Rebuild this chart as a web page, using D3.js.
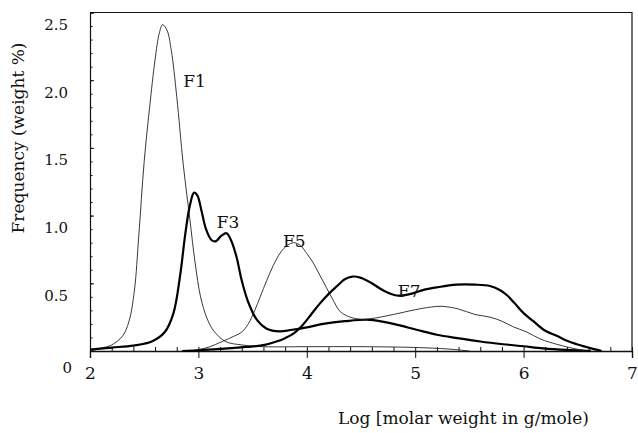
<!DOCTYPE html>
<html>
<head>
<meta charset="utf-8">
<script src="https://cdn.jsdelivr.net/npm/d3@7"></script>
<style>
  body { margin: 0; background: #fff; }
  text { font-family: "DejaVu Serif", "Liberation Serif", serif; fill: #111; }
  .axis path, .axis line { stroke: #111; }
</style>
</head>
<body>
<div id="chart"></div>
<script>
// molar mass distributions, x = log M, y = weight %
var f1 = [[2.0,0.0],[2.1,0.02],[2.2,0.045],[2.3,0.11],[2.36,0.22],[2.41,0.45],[2.45,0.85],[2.50,1.4],[2.55,1.8],[2.60,2.15],[2.64,2.35],[2.67,2.41],[2.71,2.37],[2.75,2.22],[2.80,1.88],[2.86,1.38],[2.92,0.98],[2.97,0.65],[3.02,0.40],[3.08,0.24],[3.14,0.15],[3.25,0.07],[3.4,0.045],[3.6,0.032],[4.0,0.032],[4.5,0.032],[5.0,0.026],[5.3,0.015],[5.5,0.0]];
var f3 = [[2.0,0.01],[2.2,0.025],[2.4,0.04],[2.57,0.07],[2.69,0.14],[2.77,0.28],[2.83,0.55],[2.88,0.87],[2.92,1.07],[2.96,1.17],[2.99,1.15],[3.03,1.03],[3.07,0.9],[3.12,0.82],[3.16,0.81],[3.21,0.85],[3.26,0.87],[3.30,0.82],[3.35,0.7],[3.40,0.52],[3.46,0.36],[3.54,0.23],[3.63,0.165],[3.75,0.145],[3.85,0.155],[4.0,0.175],[4.15,0.20],[4.35,0.22],[4.58,0.23],[4.8,0.2],[5.02,0.155],[5.2,0.12],[5.39,0.095],[5.6,0.07],[5.81,0.05],[6.0,0.035],[6.18,0.02],[6.4,0.008],[6.62,0.0]];
var f5 = [[2.9,0.0],[3.0,0.01],[3.1,0.03],[3.22,0.07],[3.33,0.11],[3.40,0.14],[3.46,0.2],[3.52,0.3],[3.57,0.4],[3.63,0.52],[3.69,0.63],[3.76,0.73],[3.82,0.78],[3.88,0.80],[3.94,0.78],[4.0,0.72],[4.06,0.65],[4.12,0.56],[4.18,0.47],[4.24,0.38],[4.31,0.29],[4.4,0.25],[4.5,0.235],[4.6,0.24],[4.8,0.27],[5.0,0.305],[5.15,0.325],[5.25,0.33],[5.4,0.31],[5.55,0.27],[5.69,0.25],[5.8,0.22],[5.9,0.18],[6.03,0.14],[6.15,0.09],[6.24,0.065],[6.4,0.03],[6.58,0.0]];
var f7 = [[2.85,0.0],[3.0,0.005],[3.2,0.015],[3.45,0.03],[3.61,0.045],[3.72,0.07],[3.8,0.095],[3.88,0.13],[3.96,0.19],[4.04,0.27],[4.12,0.35],[4.2,0.42],[4.28,0.48],[4.35,0.53],[4.42,0.55],[4.5,0.54],[4.6,0.5],[4.7,0.45],[4.83,0.41],[4.95,0.42],[5.07,0.45],[5.2,0.47],[5.38,0.49],[5.55,0.49],[5.69,0.48],[5.78,0.45],[5.85,0.41],[5.92,0.35],[6.0,0.28],[6.09,0.22],[6.2,0.15],[6.31,0.11],[6.4,0.075],[6.49,0.05],[6.6,0.025],[6.72,0.0]];

var seriesNames = ["F1", "F3", "F5", "F7"];
var labelPos = [[2.86, 1.95], [3.17, 0.91], [3.78, 0.77], [4.84, 0.40]];
var xTicks = [2, 3, 4, 5, 6, 7];
var yTicks = [0.5, 1.0, 1.5, 2.0, 2.5];

var data = [
    { name: "F1", values: f1, thick: false },
    { name: "F3", values: f3, thick: true },
    { name: "F5", values: f5, thick: false },
    { name: "F7", values: f7, thick: true }
];

var margin = { top: 12.5, right: 6, bottom: 82, left: 90 };
var totalW = 638, totalH = 433;
var width = totalW - margin.left - margin.right;
var height = totalH - margin.top - margin.bottom;

var svg = d3.select("#chart").append("svg")
    .attr("width", totalW)
    .attr("height", totalH)
    .append("g")
    .attr("transform", "translate(" + margin.left + "," + margin.top + ")");

var xScale = d3.scaleLinear().domain([2, 7]).range([0, width]);
var yScale = d3.scaleLinear().domain([0, 2.5]).range([height, 0]);

// frame (top + right)
svg.append("path")
    .attr("d", "M0,0H" + width + "V" + height)
    .attr("fill", "none")
    .attr("stroke", "#111")
    .attr("stroke-width", 1.2);

// y minor ticks (inward)
svg.append("g")
    .attr("class", "axis")
    .call(d3.axisLeft(yScale).tickValues(d3.range(0, 2.51, 0.1)).tickSize(-2.5).tickFormat(""))
    .call(g => g.select(".domain").remove());

// y major ticks + labels
var yAx = svg.append("g")
    .attr("class", "axis")
    .call(d3.axisLeft(yScale).tickValues(yTicks).tickSize(-4).tickPadding(22).tickFormat(d3.format(".1f")));
yAx.select(".domain").attr("stroke-width", 1.2);
yAx.selectAll("text").attr("font-size", 15).attr("dy", "0.32em").attr("transform", "translate(0,12)");

// lone zero label
svg.append("text")
    .attr("x", -18)
    .attr("y", yScale(0) + 22)
    .attr("text-anchor", "end")
    .attr("font-size", 15)
    .text("0");

// x minor ticks (inward)
svg.append("g")
    .attr("class", "axis")
    .attr("transform", "translate(0," + height + ")")
    .call(d3.axisBottom(xScale).tickValues(d3.range(2, 7.01, 0.2)).tickSize(-4).tickFormat(""))
    .call(g => g.select(".domain").remove());

// x major ticks + labels
var xAx = svg.append("g")
    .attr("class", "axis")
    .attr("transform", "translate(0," + height + ")")
    .call(d3.axisBottom(xScale).tickValues(xTicks).tickSize(7).tickPadding(9).tickFormat(d3.format("d")));
xAx.select(".domain").attr("stroke-width", 1.4);
xAx.selectAll("text").attr("font-size", 17);

// curves
var line = d3.line()
    .x(d => xScale(d[0]))
    .y(d => yScale(d[1]))
    .curve(d3.curveCatmullRom.alpha(0.5));

svg.selectAll(".curve")
    .data(data).enter()
    .append("path")
    .attr("class", "curve")
    .attr("d", d => line(d.values))
    .attr("fill", "none")
    .attr("stroke", d => d.thick ? "#000" : "#222")
    .attr("stroke-width", d => d.thick ? 2.2 : 0.9)
    .attr("stroke-linejoin", "round");

// curve labels
svg.selectAll(".lbl")
    .data(seriesNames).enter()
    .append("text")
    .attr("class", "lbl")
    .attr("x", (d, i) => xScale(labelPos[i][0]))
    .attr("y", (d, i) => yScale(labelPos[i][1]))
    .attr("font-size", 17)
    .text(d => d);

// axis titles
svg.append("text")
    .attr("transform", "translate(-66," + (138 - margin.top) + ") rotate(-90)")
    .attr("text-anchor", "middle")
    .attr("font-size", 17)
    .text("Frequency (weight %)");

svg.append("text")
    .attr("x", 338 - margin.left)
    .attr("y", 424 - margin.top)
    .attr("font-size", 17)
    .text("Log [molar weight in g/mole)");
</script>
</body>
</html>
